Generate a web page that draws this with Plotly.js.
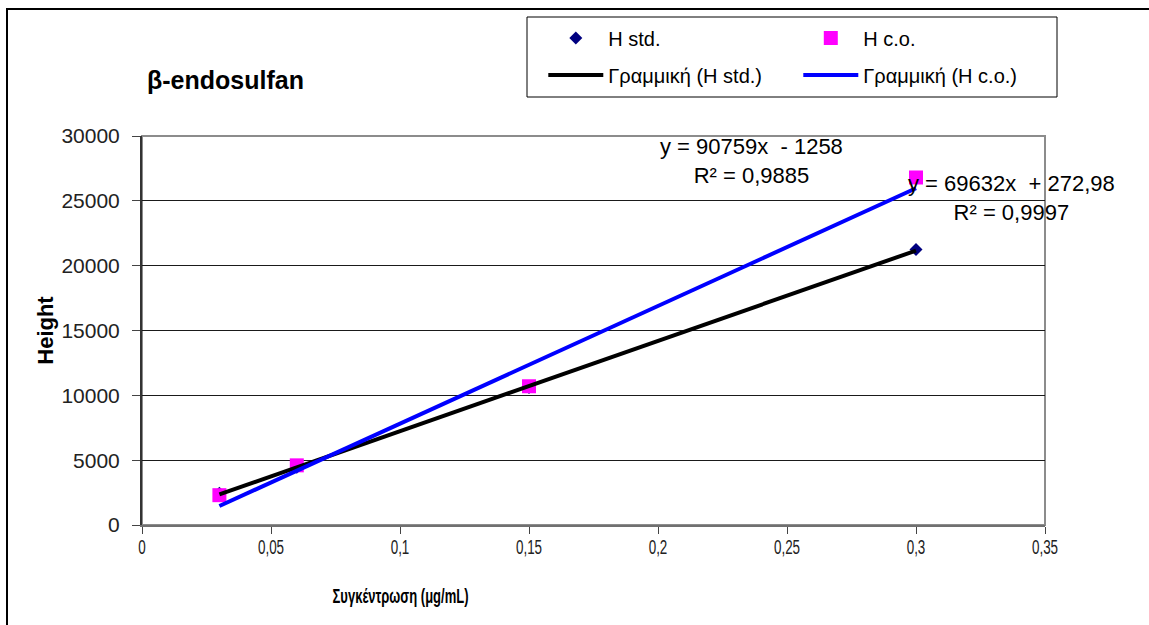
<!DOCTYPE html>
<html><head><meta charset="utf-8">
<script src="https://cdn.plot.ly/plotly-3.0.1.min.js"></script>
<style>
html,body{margin:0;padding:0;background:#fff;}
#wrap{position:relative;width:1149px;height:625px;overflow:hidden;}
#frame{position:absolute;left:6px;top:8px;width:1200px;height:700px;border-top:2px solid #000;border-left:2px solid #000;pointer-events:none;}
</style>
</head><body>
<div id="wrap"><div id="chart" style="width:1149px;height:625px;"></div><div id="frame"></div></div>
<script>
// ---- data ----
const concentrations = [0.03, 0.06, 0.15, 0.3];
const heightStd = [2450, 4450, 10600, 21250];
const heightCo = [2300, 4600, 10700, 26800];
const seriesNames = ['H std.', 'H c.o.'];
const trendNames = ['Γραμμική (H std.)', 'Γραμμική (H c.o.)'];
const trendSlopes = [69632, 90759];
const trendIntercepts = [272.98, -1258];
const trendR2 = [0.9997, 0.9885];
const xTickVals = [0, 0.05, 0.1, 0.15, 0.2, 0.25, 0.3, 0.35];
const xTickLabels = ['0', '0,05', '0,1', '0,15', '0,2', '0,25', '0,3', '0,35'];
const yTickVals = [0, 5000, 10000, 15000, 20000, 25000, 30000];
const chartTitle = 'β-endosulfan';
const xTitle = 'Συγκέντρωση (μg/mL)';
const yTitle = 'Height';

// ---- helpers ----
const fmt = n => String(n).replace('.', ',');
const eqText = i => 'y = ' + fmt(trendSlopes[i]) + 'x\u00a0 ' + (trendIntercepts[i] < 0 ? '- ' : '+ ') +
  fmt(Math.abs(trendIntercepts[i])) + '<br>R² = ' + fmt(trendR2[i]);
const xMin = Math.min(...concentrations), xMax = Math.max(...concentrations);
const trendX = [xMin, xMax];
const trendY = i => trendX.map(x => trendSlopes[i] * x + trendIntercepts[i]);

const FONT = 'Liberation Sans, Arial, sans-serif';

const traces = [
  {x: concentrations, y: heightStd, name: seriesNames[0], type: 'scatter', mode: 'markers',
   marker: {symbol: 'diamond', size: 10, color: '#000080'}, legend: 'legend'},
  {x: concentrations, y: heightCo, name: seriesNames[1], type: 'scatter', mode: 'markers',
   marker: {symbol: 'square', size: 14, color: '#FF00FF'}, legend: 'legend'},
  {x: trendX, y: trendY(0), name: trendNames[0], type: 'scatter', mode: 'lines',
   line: {color: '#000000', width: 4}, legend: 'legend2'},
  {x: trendX, y: trendY(1), name: trendNames[1], type: 'scatter', mode: 'lines',
   line: {color: '#0000FF', width: 4}, legend: 'legend2'}
];

const legendBase = {orientation: 'h', xanchor: 'left', yanchor: 'middle', x: 0.4444,
  font: {family: FONT, size: 20, color: '#000'}, itemwidth: 55, entrywidth: 185, entrywidthmode: 'pixels',
  bgcolor: 'rgba(0,0,0,0)', borderwidth: 0, traceorder: 'normal'};

const layout = {
  width: 1149, height: 625,
  margin: {l: 142, r: 104, t: 136, b: 100, autoexpand: false},
  paper_bgcolor: '#fff', plot_bgcolor: '#fff',
  separators: ',.',
  font: {family: FONT, size: 20, color: '#000'},
  showlegend: true,
  title: {text: '<b>' + chartTitle + '</b>', x: 147 / 1149, xanchor: 'left', xref: 'container',
    y: 1 - 80 / 625, yanchor: 'middle', yref: 'container', font: {family: FONT, size: 25, color: '#000'}},
  legend: Object.assign({}, legendBase, {y: 1.252}),
  legend2: Object.assign({}, legendBase, {y: 1.157}),
  xaxis: {range: [0, 0.35], tickvals: xTickVals, ticktext: xTickLabels, ticks: 'outside', ticklen: 7,
    tickcolor: '#444', tickwidth: 1, showgrid: false, zeroline: false, showline: true, ticklabelstandoff: -5,
    linecolor: '#707070', linewidth: 2, tickfont: {family: FONT, size: 21, color: '#222'}},
  yaxis: {range: [0, 30000], tickvals: yTickVals, tickformat: 'd', ticks: 'outside', ticklen: 8,
    tickcolor: '#444', tickwidth: 1, showgrid: true, gridcolor: '#1a1a1a', gridwidth: 1, zeroline: false,
    ticklabelstandoff: 8,
    showline: true, linecolor: '#333', linewidth: 2, tickfont: {family: FONT, size: 21, color: '#222'},
    title: {text: '<b>' + yTitle + '</b>', font: {family: FONT, size: 22, color: '#000'}, standoff: 2}},
  shapes: [
    {type: 'rect', xref: 'paper', yref: 'paper', x0: 0, x1: 1, y0: 0, y1: 1,
     line: {color: '#8c8c8c', width: 2}, layer: 'below'},
    {type: 'rect', xref: 'paper', yref: 'paper', x0: (527 - 142) / 903, x1: (1057 - 142) / 903,
     y0: (525 - 97) / 389, y1: (525 - 17) / 389, line: {color: '#000', width: 1}}
  ],
  annotations: [
    {text: eqText(1), xref: 'x', yref: 'y', x: 0.2364, y: 28070, showarrow: false, align: 'center',
     xanchor: 'center', yanchor: 'middle', font: {family: FONT, size: 22, color: '#000'}},
    {text: eqText(0), xref: 'x', yref: 'y', x: 0.3372, y: 25220, showarrow: false, align: 'center',
     xanchor: 'center', yanchor: 'middle', font: {family: FONT, size: 22, color: '#000'}},
    {text: '<b>' + xTitle + '</b>', xref: 'paper', yref: 'paper', x: (400 - 142) / 903, y: (525 - 596) / 389,
     showarrow: false, xanchor: 'center', yanchor: 'middle', font: {family: FONT, size: 20, color: '#000'}}
  ]
};

// horizontally condense a text element about its own centre (the source chart uses a narrow face)
function squeezeX(el, s) {
  const b = el.getBBox();
  const cx = b.x + b.width / 2;
  const t = el.getAttribute('transform') || '';
  el.setAttribute('transform', t + ' translate(' + cx + ',0) scale(' + s + ',1) translate(' + (-cx) + ',0)');
}

Plotly.newPlot('chart', traces, layout, {displayModeBar: false, staticPlot: true}).then(gd => {
  gd.querySelectorAll('.xtick text').forEach(el => squeezeX(el, 0.64));
  gd.querySelectorAll('.annotation-text').forEach(el => {
    if (el.textContent === xTitle) {
      const w = el.getBBox().width;
      if (w > 0) squeezeX(el, 136 / w);
    }
  });
});
</script>
</body></html>
